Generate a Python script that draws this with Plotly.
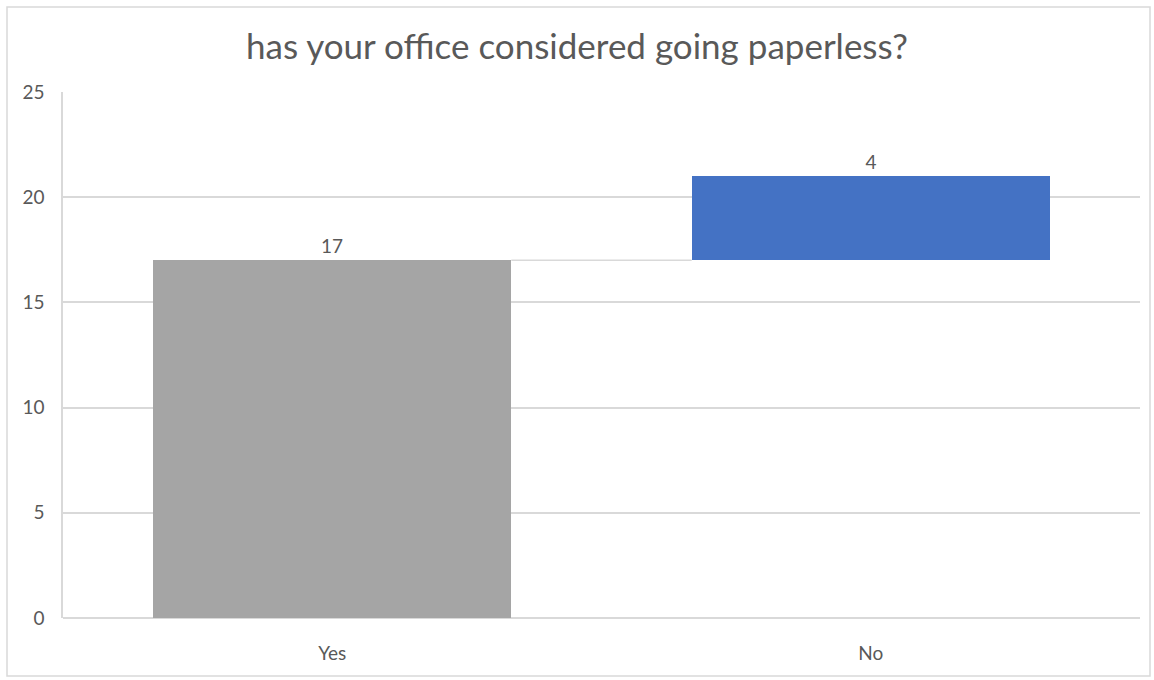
import plotly.graph_objects as go

# Survey answers, stacked as a running total (waterfall style)
categories = ["Yes", "No"]
counts = [17, 4]
bar_colors = ["#a5a5a5", "#4472c4"]
y_ticks = [0, 5, 10, 15, 20, 25]

BAR_WIDTH = 0.665
TEXT_COLOR = "#595959"
GRID_COLOR = "#d9d9d9"
FONT = "Lato, 'Open Sans', sans-serif"

# cumulative bases for each step
bases = []
running = 0
for c in counts:
    bases.append(running)
    running += c
positions = list(range(len(categories)))

fig = go.Figure()

fig.add_trace(go.Bar(
    x=positions,
    y=counts,
    base=bases,
    width=BAR_WIDTH,
    marker=dict(color=bar_colors, line=dict(width=0)),
    text=[str(c) for c in counts],
    textposition="outside",
    textfont=dict(color=TEXT_COLOR, size=19, family=FONT),
    cliponaxis=False,
    hoverinfo="skip",
))

# connector lines between consecutive steps
for i in range(len(counts) - 1):
    level = bases[i] + counts[i]
    fig.add_trace(go.Scatter(
        x=[positions[i] + BAR_WIDTH / 2, positions[i + 1] - BAR_WIDTH / 2],
        y=[level, level],
        mode="lines",
        line=dict(color=GRID_COLOR, width=1.5),
        hoverinfo="skip",
    ))

fig.update_layout(
    width=1154,
    height=680,
    margin=dict(l=63, r=14, t=92, b=62),
    paper_bgcolor="white",
    plot_bgcolor="white",
    showlegend=False,
    bargap=0,
    title=dict(
        text="has your office considered going paperless?",
        x=0.5, xanchor="center",
        y=1 - 47 / 680, yanchor="middle",
        font=dict(size=35, color=TEXT_COLOR, family=FONT),
    ),
    font=dict(family=FONT, color=TEXT_COLOR),
    shapes=[dict(
        type="rect", xref="paper", yref="paper",
        x0=(7 - 63) / 1077, x1=(1150 - 63) / 1077,
        y0=-(676 - 618) / 526, y1=(618 - 7) / 526,
        line=dict(color="#d9d9d9", width=1.5),
        fillcolor="rgba(0,0,0,0)",
        layer="below",
    )],
)

fig.update_xaxes(
    range=[-0.5, len(categories) - 0.5],
    tickvals=positions,
    ticktext=categories,
    tickfont=dict(size=19, color=TEXT_COLOR, family=FONT),
    showgrid=False,
    showline=False,
    zeroline=False,
    ticks="",
    ticklabelstandoff=22,
)

fig.update_yaxes(
    range=[0, 25],
    tickvals=y_ticks,
    tickfont=dict(size=19, color=TEXT_COLOR, family=FONT),
    showgrid=True,
    gridcolor=GRID_COLOR,
    gridwidth=1.5,
    showline=True,
    linecolor=GRID_COLOR,
    linewidth=1.5,
    zeroline=True,
    zerolinecolor=GRID_COLOR,
    zerolinewidth=1.5,
    ticks="",
    ticklabelstandoff=13,
)

fig.write_html("out.html")
